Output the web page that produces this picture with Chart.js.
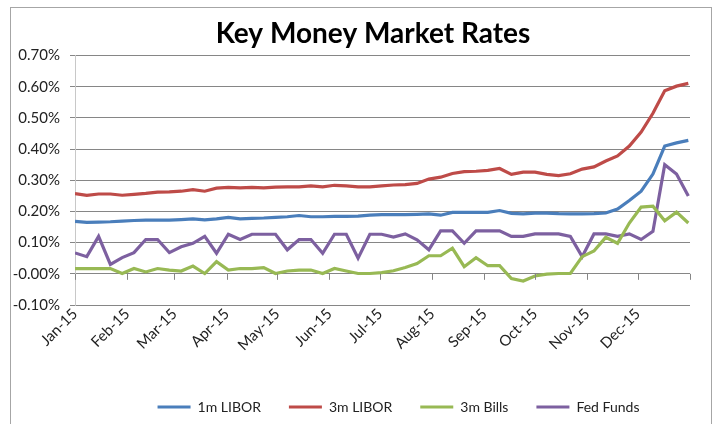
<!DOCTYPE html>
<html>
<head>
<meta charset="utf-8">
<script src="https://cdn.jsdelivr.net/npm/chart.js@4"></script>
<style>
  body { margin: 0; background: #fff; overflow: hidden; }
  #marco { position: absolute; left: 10px; top: 7px; width: 702px; height: 430px; border: 1px solid #a6a6a6; box-sizing: border-box; }
  #caja { position: absolute; left: 0; top: 0; width: 718px; height: 424px; }
</style>
</head>
<body>
<div id="marco"></div>
<div id="caja"><canvas id="graficoTasas"></canvas></div>
<script>
// Días del año (semanal) para cada observación
const dias = [0, 7, 14, 21, 28, 35, 42, 49, 56, 63, 70, 77, 84, 91, 98, 105, 112, 119, 126, 133,
  140, 147, 154, 161, 168, 175, 182, 189, 196, 203, 210, 217, 224, 231, 238, 245, 252, 259, 266,
  273, 280, 287, 294, 301, 308, 315, 322, 329, 336, 343, 350, 357, 364];

// Marcas de mes y sus etiquetas
const diasMes = [0, 31, 59, 90, 120, 151, 181, 212, 243, 273, 304, 334, 365];
const etiquetasMes = ['Jan-15', 'Feb-15', 'Mar-15', 'Apr-15', 'May-15', 'Jun-15',
  'Jul-15', 'Aug-15', 'Sep-15', 'Oct-15', 'Nov-15', 'Dec-15', ''];

// Series (en %)
const libor1m = [0.168, 0.165, 0.166, 0.167, 0.169, 0.171, 0.172, 0.172, 0.172, 0.174, 0.176, 0.173,
  0.176, 0.181, 0.176, 0.178, 0.179, 0.181, 0.183, 0.187, 0.183, 0.183, 0.184, 0.184, 0.185, 0.188,
  0.19, 0.19, 0.19, 0.191, 0.192, 0.188, 0.197, 0.197, 0.197, 0.197, 0.203, 0.194, 0.192, 0.195,
  0.195, 0.193, 0.192, 0.192, 0.193, 0.195, 0.208, 0.235, 0.265, 0.32, 0.41, 0.42, 0.428];

const libor3m = [0.257, 0.252, 0.256, 0.256, 0.252, 0.255, 0.258, 0.262, 0.263, 0.265, 0.27, 0.265,
  0.275, 0.277, 0.276, 0.277, 0.276, 0.278, 0.279, 0.279, 0.282, 0.279, 0.284, 0.282, 0.279, 0.279,
  0.282, 0.285, 0.286, 0.29, 0.304, 0.31, 0.322, 0.328, 0.329, 0.332, 0.338, 0.319, 0.326, 0.326,
  0.319, 0.315, 0.321, 0.336, 0.343, 0.362, 0.378, 0.41, 0.455, 0.515, 0.587, 0.602, 0.611];

const bills3m = [0.017, 0.017, 0.017, 0.017, 0.001, 0.017, 0.006, 0.017, 0.012, 0.009, 0.025, 0.001,
  0.039, 0.012, 0.017, 0.017, 0.02, 0.001, 0.009, 0.012, 0.012, 0.001, 0.017, 0.009, 0.001, 0.001,
  0.004, 0.01, 0.02, 0.033, 0.058, 0.058, 0.082, 0.023, 0.052, 0.026, 0.026, -0.015, -0.023, -0.007,
  -0.001, 0.001, 0.001, 0.055, 0.073, 0.117, 0.098, 0.163, 0.214, 0.217, 0.17, 0.198, 0.163];

const fedFunds = [0.067, 0.055, 0.12, 0.03, 0.052, 0.068, 0.11, 0.11, 0.068, 0.087, 0.098, 0.12,
  0.066, 0.127, 0.11, 0.127, 0.127, 0.127, 0.077, 0.11, 0.11, 0.066, 0.127, 0.127, 0.05, 0.127,
  0.127, 0.118, 0.128, 0.109, 0.077, 0.138, 0.138, 0.098, 0.138, 0.138, 0.138, 0.12, 0.12, 0.128,
  0.128, 0.128, 0.12, 0.055, 0.128, 0.128, 0.12, 0.128, 0.11, 0.136, 0.35, 0.32, 0.25];

function serie(nombre, valores, color) {
  return {
    label: nombre,
    data: valores.map((v, i) => ({ x: dias[i], y: v })),
    borderColor: color,
    backgroundColor: color,
    borderWidth: 3.2,
    pointRadius: 0,
    pointStyle: 'line',
    tension: 0
  };
}

// Ajustes: título y leyenda algo a la derecha, marcas del eje sobre 0.00%
const ajustes = {
  id: 'ajustes',
  afterLayout(chart) {
    chart.titleBlock.left += 22;
    chart.titleBlock.right += 22;
    chart.legend.left += 16;
    chart.legend.right += 16;
  },
  afterDraw(chart) {
    const { ctx, scales: { x, y } } = chart;
    const y0 = y.getPixelForValue(0);
    ctx.save();
    ctx.strokeStyle = '#868686';
    ctx.lineWidth = 1;
    ctx.beginPath();
    diasMes.forEach(d => {
      const px = Math.round(x.getPixelForValue(d)) + 0.5;
      ctx.moveTo(px, y0);
      ctx.lineTo(px, y0 + 6);
    });
    ctx.stroke();
    ctx.restore();
  }
};

const ctx = document.getElementById('graficoTasas').getContext('2d');
new Chart(ctx, {
  type: 'line',
  data: {
    datasets: [
      serie('1m LIBOR', libor1m, '#4a7ebb'),
      serie('3m LIBOR', libor3m, '#be4b48'),
      serie('3m Bills', bills3m, '#98b954'),
      serie('Fed Funds', fedFunds, '#7d60a0')
    ]
  },
  options: {
    responsive: true,
    maintainAspectRatio: false,
    animation: false,
    layout: { padding: { left: 12, right: 28, top: 8, bottom: 0 } },
    plugins: {
      title: {
        display: true,
        text: 'Key Money Market Rates',
        color: '#000',
        font: { family: 'Lato', size: 28, weight: 'bold' },
        padding: { top: 9, bottom: 5 }
      },
      legend: {
        position: 'bottom',
        fullSize: false,
        labels: {
          usePointStyle: true,
          pointStyleWidth: 33,
          boxHeight: 3,
          padding: 28,
          color: '#222',
          font: { family: 'Lato', size: 14 }
        }
      },
      tooltip: { enabled: false }
    },
    scales: {
      x: {
        type: 'linear',
        min: 0,
        max: 365,
        afterBuildTicks(scale) {
          scale.ticks = diasMes.map(v => ({ value: v }));
        },
        afterFit(scale) { scale.height = 67; },
        ticks: {
          minRotation: 45,
          maxRotation: 45,
          padding: 0,
          color: '#222',
          font: { family: 'Lato', size: 15 },
          callback: (v, i) => etiquetasMes[i]
        },
        grid: { display: false, drawTicks: false },
        border: { display: false }
      },
      y: {
        min: -0.1,
        max: 0.7,
        afterFit(scale) { scale.width = 63; },
        ticks: {
          stepSize: 0.1,
          padding: 10,
          color: '#222',
          font: { family: 'Lato', size: 15 },
          callback: v => v.toFixed(2) + '%'
        },
        grid: { color: '#868686', tickLength: 5 },
        border: { display: true, color: '#c8c8c8', width: 1 }
      }
    }
  },
  plugins: [ajustes]
});
</script>
</body>
</html>
